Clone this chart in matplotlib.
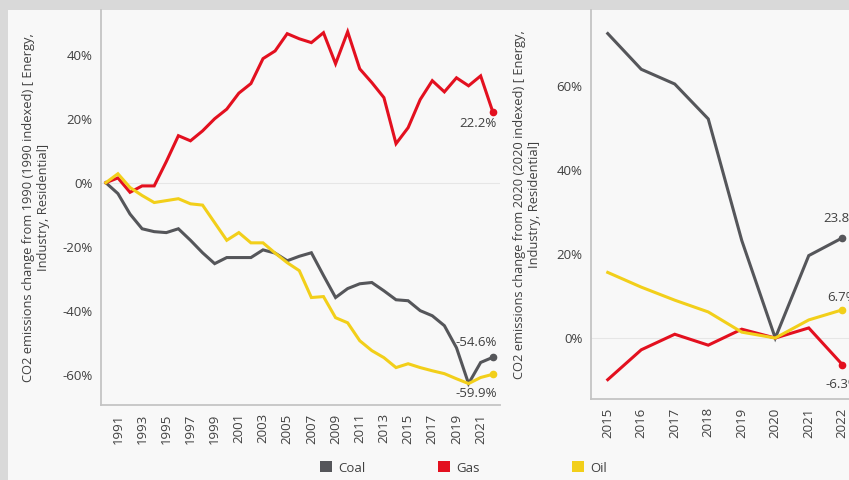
import matplotlib.pyplot as plt
from matplotlib.patches import Rectangle, Patch

plt.rcParams['font.family'] = ['Open Sans', 'DejaVu Sans']

# data (percent change)
years_left = list(range(1990, 2023))
coal_left = [0, -3.4, -9.8, -14.4, -15.3, -15.6, -14.4, -18.0, -21.9, -25.3,
             -23.4, -23.4, -23.4, -21.0, -22.0, -24.4, -23.0, -21.9, -29.0, -35.9,
             -33.1, -31.6, -31.2, -33.8, -36.6, -36.9, -40.0, -41.6, -44.7, -51.6,
             -62.8, -56.2, -54.6]
gas_left = [0, 1.5, -3.0, -1.0, -1.0, 6.6, 14.7, 13.1, 16.2, 20.0,
            23.0, 28.0, 31.0, 38.8, 41.2, 46.6, 45.0, 43.8, 46.9, 37.2,
            47.2, 35.6, 31.3, 26.6, 12.2, 17.2, 26.0, 31.9, 28.4, 32.8,
            30.3, 33.4, 22.2]
oil_left = [0, 2.8, -1.5, -4.0, -6.2, -5.6, -5.0, -6.6, -7.0, -12.5,
            -18.0, -15.6, -18.8, -18.8, -22.0, -25.0, -27.5, -35.9, -35.6, -42.2,
            -43.8, -49.4, -52.5, -54.7, -57.8, -56.6, -57.8, -58.8, -59.7, -61.3,
            -62.8, -60.9, -59.9]

years_right = list(range(2015, 2023))
coal_right = [72.4, 63.9, 60.4, 52.1, 23.2, 0, 19.6, 23.8]
gas_right = [-9.9, -2.8, 0.9, -1.7, 2.1, 0, 2.4, -6.3]
oil_right = [15.6, 12.1, 9.0, 6.2, 1.4, 0, 4.3, 6.7]

series_names = ['Coal', 'Gas', 'Oil']
colors = {'Coal': '#55565a', 'Gas': '#e3101f', 'Oil': '#f2cf1a'}

left_label = 'CO2 emissions change from 1990 (1990 indexed) [ Energy,\nIndustry, Residential]'
right_label = 'CO2 emissions change from 2020 (2020 indexed) [ Energy,\nIndustry, Residential]'

text_col = '#404040'
panel_col = '#f8f8f8'

fig = plt.figure(figsize=(8.49, 4.8), dpi=100)
fig.patch.set_facecolor('#d9d9d9')
fig.add_artist(Rectangle((8 / 849, 0), 1, 1 - 10 / 480, transform=fig.transFigure,
                         facecolor=panel_col, edgecolor='none', zorder=-5))

ax1 = fig.add_axes([101 / 849, 1 - 405 / 480, 399 / 849, 395 / 480])
ax2 = fig.add_axes([591 / 849, 1 - 399 / 480, 268 / 849, 389 / 480])


def style_axes(ax):
    ax.set_facecolor(panel_col)
    for s in ['top', 'right']:
        ax.spines[s].set_visible(False)
    for s in ['left', 'bottom']:
        ax.spines[s].set_color('#c4c4c4')
        ax.spines[s].set_linewidth(1.3)
    ax.tick_params(length=0, colors=text_col, labelsize=9.5, pad=6)
    ax.axhline(0, color='#e6e6e6', lw=0.8, zorder=0)


# left chart
style_axes(ax1)
for name, vals in zip(series_names, [coal_left, gas_left, oil_left]):
    ax1.plot(years_left, vals, color=colors[name], lw=2.2, solid_joinstyle='miter')
    ax1.plot(years_left[-1], vals[-1], 'o', color=colors[name], ms=4.5)
ax1.set_xlim(1989.6, 2022.6)
ax1.set_ylim(-69.5, 54)
ax1.set_yticks([-60, -40, -20, 0, 20, 40])
ax1.set_yticklabels([f'{v}%' for v in [-60, -40, -20, 0, 20, 40]])
ax1.set_xticks(years_left[1::2])
ax1.set_xticklabels([str(y) for y in years_left[1::2]], rotation=90)
ax1.set_ylabel(left_label, fontsize=9.3, color=text_col, linespacing=1.15)
ax1.yaxis.set_label_coords(-0.128, 0.5)

lab = dict(fontsize=9.5, color=text_col, textcoords='offset points')
ax1.annotate(f'{gas_left[-1]:.1f}%', (years_left[-1], gas_left[-1]), xytext=(3, -4),
             ha='right', va='top', **lab)
ax1.annotate(f'{coal_left[-1]:.1f}%', (years_left[-1], coal_left[-1]), xytext=(3, 6),
             ha='right', va='bottom', **lab)
ax1.annotate(f'{oil_left[-1]:.1f}%', (years_left[-1], oil_left[-1]), xytext=(3, -9),
             ha='right', va='top', **lab)

# right chart
style_axes(ax2)
for name, vals in zip(series_names, [coal_right, gas_right, oil_right]):
    ax2.plot(years_right, vals, color=colors[name], lw=2.2, solid_joinstyle='miter')
    ax2.plot(years_right[-1], vals[-1], 'o', color=colors[name], ms=4.5)
ax2.set_xlim(2014.5, 2022.5)
ax2.set_ylim(-14.5, 78)
ax2.set_yticks([0, 20, 40, 60])
ax2.set_yticklabels([f'{v}%' for v in [0, 20, 40, 60]])
ax2.set_xticks(years_right)
ax2.set_xticklabels([str(y) for y in years_right], rotation=90)
ax2.set_ylabel(right_label, fontsize=9.3, color=text_col, linespacing=1.15)
ax2.yaxis.set_label_coords(-0.187, 0.5)

ax2.annotate(f'{coal_right[-1]:.1f}%', (years_right[-1], coal_right[-1]), xytext=(0, 9),
             ha='center', va='bottom', **lab)
ax2.annotate(f'{oil_right[-1]:.1f}%', (years_right[-1], oil_right[-1]), xytext=(0, 4),
             ha='center', va='bottom', **lab)
ax2.annotate(f'{gas_right[-1]:.1f}%', (years_right[-1], gas_right[-1]), xytext=(0, -10),
             ha='center', va='top', **lab)

# legend, one entry per position
legend_x = [320 / 849, 438 / 849, 572 / 849]
for name, x in zip(series_names, legend_x):
    leg = fig.legend(handles=[Patch(facecolor=colors[name], edgecolor='none')], labels=[name],
                     loc='center left', bbox_to_anchor=(x, 1 - 468 / 480), frameon=False,
                     fontsize=9.5, handlelength=0.9, handleheight=0.9, handletextpad=0.5,
                     borderpad=0, borderaxespad=0, labelcolor=text_col)

fig.savefig('out.png', dpi=100, facecolor=fig.get_facecolor())
